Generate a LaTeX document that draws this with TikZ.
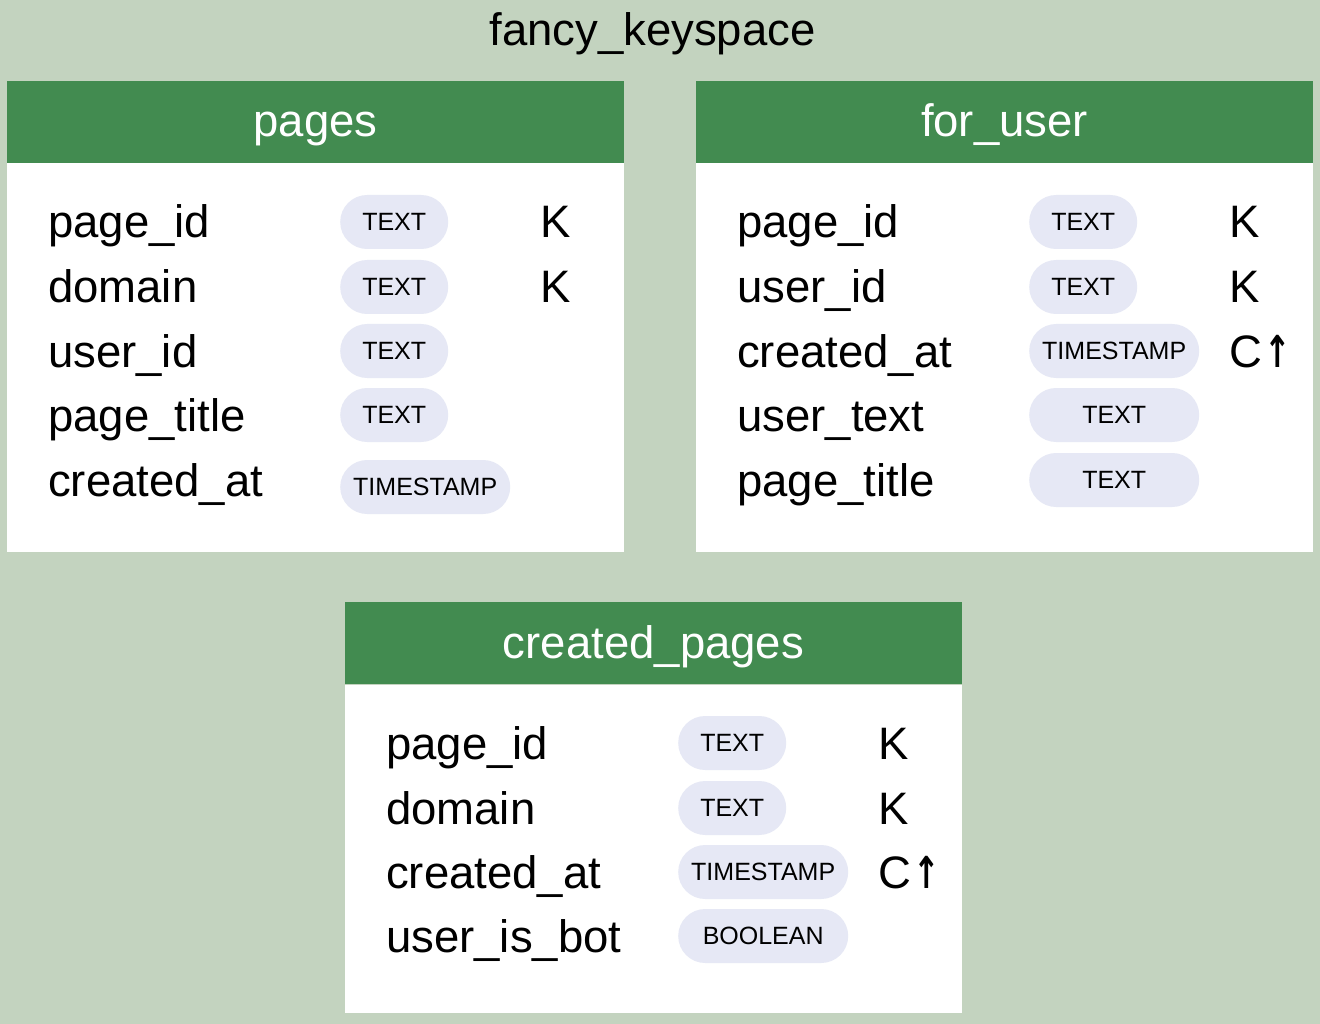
\documentclass[tikz,border=0pt]{standalone}
\usepackage{fontspec}
\usepackage{graphicx}
\setmainfont{Liberation Sans}
\newfontfamily\arrowfont{DejaVu Sans}
\definecolor{bgc}{HTML}{C3D3BF}
\definecolor{hdrc}{HTML}{428B50}
\definecolor{pillc}{HTML}{E6E8F5}
\newcommand{\titlefont}{\fontsize{45.5}{52}\selectfont}
\newcommand{\fieldfont}{\fontsize{45.5}{52}\selectfont}
\newcommand{\pillfont}{\fontsize{25}{29}\selectfont}
\newcommand{\upar}{\kern2pt\scalebox{0.72}[1]{\arrowfont\bfseries\fontsize{44}{50}\selectfont↑}}
\tikzset{
  hdrbox/.style={fill=hdrc, inner sep=0, minimum width=617pt, minimum height=82pt, anchor=north west},
  bodybox/.style={fill=white, inner sep=0, minimum width=617pt, anchor=north west},
  hdrtext/.style={anchor=base, inner sep=0, text=white, font=\fieldfont},
  fld/.style={anchor=base west, inner sep=0, font=\fieldfont},
  pill/.style={fill=pillc, rounded corners=27pt, minimum height=54pt, inner sep=0, font=\pillfont, anchor=west},
  pillS/.style={pill, minimum width=108pt},
  pillL/.style={pill, minimum width=170pt},
}
\begin{document}
\begin{tikzpicture}[x=1pt,y=-1pt]
\fill[bgc] (0,0) rectangle (1320,1024);
\useasboundingbox (0,0) rectangle (1320,1024);
\node[anchor=base, inner sep=0, font=\titlefont] (title) at (652.5,46) {fancy\_keyspace};

% pages
\node[bodybox, minimum height=389pt] (pb) at (7,163) {};
\node[hdrbox] (ph) at (7,81) {};
\node[hdrtext] (pht) at (315.5,137) {pages};
\node[fld] (p1) at (48,238) {page\_id};
\node[fld] (p2) at (48,303) {domain};
\node[fld] (p3) at (48,367) {user\_id};
\node[fld] (p4) at (48,431) {page\_title};
\node[fld] (p5) at (48,496) {created\_at};
\node[pillS] (pt1) at (340,222) {TEXT};
\node[pillS] (pt2) at (340,287) {TEXT};
\node[pillS] (pt3) at (340,351) {TEXT};
\node[pillS] (pt4) at (340,415) {TEXT};
\node[pillL] (pt5) at (340,487) {TIMESTAMP};
\node[fld] (pk1) at (540,238) {K};
\node[fld] (pk2) at (540,303) {K};

% for_user
\node[bodybox, minimum height=389pt] (fb) at (696,163) {};
\node[hdrbox] (fh) at (696,81) {};
\node[hdrtext] (fht) at (1004.5,137) {for\_user};
\node[fld] (f1) at (737,238) {page\_id};
\node[fld] (f2) at (737,303) {user\_id};
\node[fld] (f3) at (737,367) {created\_at};
\node[fld] (f4) at (737,431) {user\_text};
\node[fld] (f5) at (737,496) {page\_title};
\node[pillS] (ft1) at (1029,222) {TEXT};
\node[pillS] (ft2) at (1029,287) {TEXT};
\node[pillL] (ft3) at (1029,351) {TIMESTAMP};
\node[pillL] (ft4) at (1029,415) {TEXT};
\node[pillL] (ft5) at (1029,480) {TEXT};
\node[fld] (fk1) at (1229,238) {K};
\node[fld] (fk2) at (1229,303) {K};
\node[fld] (fk3) at (1229,367) {C\upar};

% created_pages
\node[bodybox, minimum height=328pt] (cb) at (345,685) {};
\node[hdrbox] (ch) at (345,602) {};
\node[hdrtext] (cht) at (653.5,658) {created\_pages};
\node[fld] (c1) at (386,759) {page\_id};
\node[fld] (c2) at (386,824) {domain};
\node[fld] (c3) at (386,888) {created\_at};
\node[fld] (c4) at (386,952) {user\_is\_bot};
\node[pillS] (ct1) at (678,743) {TEXT};
\node[pillS] (ct2) at (678,808) {TEXT};
\node[pillL] (ct3) at (678,872) {TIMESTAMP};
\node[pillL] (ct4) at (678,936) {BOOLEAN};
\node[fld] (ck1) at (878,759) {K};
\node[fld] (ck2) at (878,824) {K};
\node[fld] (ck3) at (878,888) {C\upar};
\end{tikzpicture}
\end{document}
